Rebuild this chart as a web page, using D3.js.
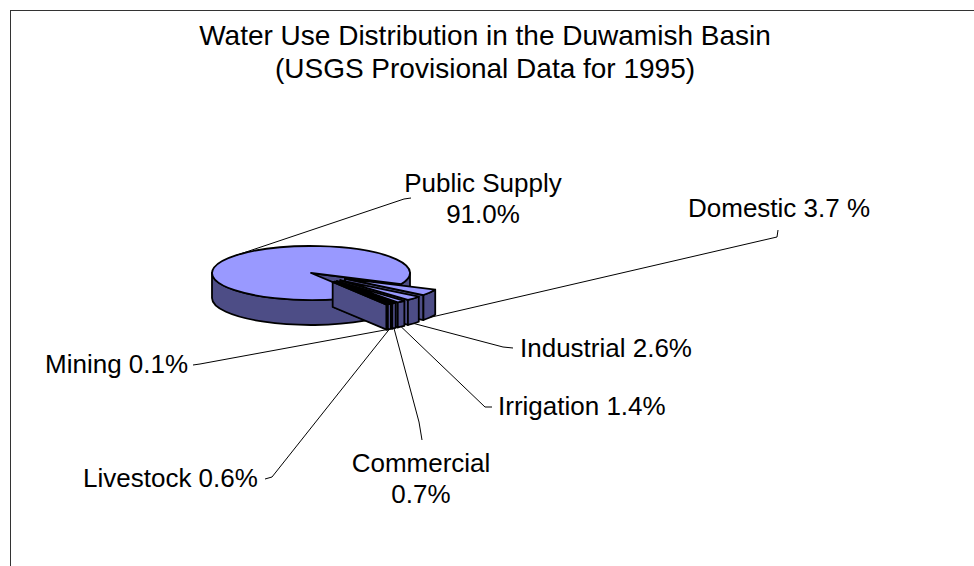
<!DOCTYPE html>
<html>
<head>
<meta charset="utf-8">
<script src="https://cdn.jsdelivr.net/npm/d3@7"></script>
<style>
  body { margin: 0; background: #fff; }
  text { font-family: "Liberation Sans", Arial, sans-serif; fill: #000; }
</style>
</head>
<body>
<div id="chart"></div>
<script>
//////////////////////////////////////////////////////////////////
/////////////////////////// Data /////////////////////////////////
//////////////////////////////////////////////////////////////////

var categories = ["Public Supply", "Domestic", "Industrial", "Irrigation", "Commercial", "Livestock", "Mining"];
var shares = [91.0, 3.7, 2.6, 1.4, 0.7, 0.6, 0.1];
var labelText = [
  ["Public Supply", "91.0%"],
  ["Domestic 3.7 %"],
  ["Industrial 2.6%"],
  ["Irrigation 1.4%"],
  ["Commercial", "0.7%"],
  ["Livestock 0.6%"],
  ["Mining 0.1%"]
];
var exploded = [false, true, true, true, true, true, true];
var titleLines = ["Water Use Distribution in the Duwamish Basin", "(USGS Provisional Data for 1995)"];

//////////////////////////////////////////////////////////////////
/////////////////////////// Layout ///////////////////////////////
//////////////////////////////////////////////////////////////////

var width = 974, height = 566;
var cx = 311, cy = 273;     // centre of the pie top
var rx = 99, ry = 27;       // ellipse radii
var depth = 25;             // thickness of the pie
var explode = 0.4;          // offset of exploded slices, fraction of radius
var startDeg = 147;         // d3.pie angle where Public Supply starts

// label placement: text anchor, baseline, and the bend points of the leader
var labelLayout = {
  "Public Supply": { x: 483, y: 192, anchor: "middle", pts: [[404, 199], [411, 198]] },
  "Domestic":      { x: 688, y: 217, anchor: "start",  pts: [[777, 237], [778, 230]] },
  "Industrial":    { x: 520, y: 357, anchor: "start",  pts: [[503, 347], [513, 348]] },
  "Irrigation":    { x: 498, y: 415, anchor: "start",  pts: [[485, 407], [492, 407]] },
  "Commercial":    { x: 421, y: 472, anchor: "middle", pts: [[419, 422], [422, 440]] },
  "Livestock":     { x: 83,  y: 487, anchor: "start",  pts: [[272, 477], [265, 479]] },
  "Mining":        { x: 45,  y: 373, anchor: "start",  pts: [[200, 364], [193, 365]] }
};

var topColor = "#9999ff", sideColor = "#4d4d86";

var svg = d3.select("#chart").append("svg")
  .attr("width", width)
  .attr("height", height);

// chart frame (right and bottom edges are off the page)
svg.append("rect")
  .attr("x", 10.5).attr("y", 10.5)
  .attr("width", width + 20).attr("height", height + 20)
  .attr("fill", "#fff")
  .attr("stroke", "#333")
  .attr("stroke-width", 1);

svg.selectAll("text.title").data(titleLines).enter().append("text")
  .attr("class", "title")
  .attr("x", 485)
  .attr("y", function(d, i) { return 45 + i * 33; })
  .attr("text-anchor", "middle")
  .style("font-size", "28px")
  .text(function(d) { return d; });

//////////////////////////////////////////////////////////////////
/////////////////////////// Pie //////////////////////////////////
//////////////////////////////////////////////////////////////////

var toRad = Math.PI / 180;
var pie = d3.pie().sort(null).value(function(d) { return d.v; })
  .startAngle(startDeg * toRad)
  .endAngle(startDeg * toRad + 2 * Math.PI);

var data = categories.map(function(c, i) { return { name: c, v: shares[i], lines: labelText[i], ex: exploded[i] }; });
var arcs = pie(data);

// convert d3.pie angles (0 = 12 o'clock) into screen angles (0 = 3 o'clock, y down)
arcs.forEach(function(a) {
  a.t0 = a.startAngle - Math.PI / 2;
  a.t1 = a.endAngle - Math.PI / 2;
  var mid = (a.t0 + a.t1) / 2;
  a.mid = mid;
  var k = a.data.ex ? explode : 0;
  a.ox = cx + Math.cos(mid) * k * rx;
  a.oy = cy + Math.sin(mid) * k * ry;
});

function pt(a, t, dy) {
  return [a.ox + Math.cos(t) * rx, a.oy + Math.sin(t) * ry + (dy || 0)];
}

function topPath(a) {
  var p0 = pt(a, a.t0), p1 = pt(a, a.t1);
  var large = (a.t1 - a.t0) > Math.PI ? 1 : 0;
  return "M" + a.ox + "," + a.oy + "L" + p0 + "A" + rx + "," + ry + " 0 " + large + " 1 " + p1 + "Z";
}

function sidePaths(a) {
  var out = [];
  [-2, 0, 2].forEach(function(n) {
    var lo = Math.max(a.t0, n * Math.PI), hi = Math.min(a.t1, n * Math.PI + Math.PI);
    if (hi > lo) {
      var p0 = pt(a, lo), p1 = pt(a, hi), q1 = pt(a, hi, depth), q0 = pt(a, lo, depth);
      out.push("M" + p0 + "A" + rx + "," + ry + " 0 0 1 " + p1 + "L" + q1 +
        "A" + rx + "," + ry + " 0 0 0 " + q0 + "Z");
    }
  });
  return out;
}

function radialFace(a, t) {
  var p = pt(a, t);
  return "M" + a.ox + "," + a.oy + "L" + p + "L" + [p[0], p[1] + depth] +
    "L" + [a.ox, a.oy + depth] + "Z";
}

var pieG = svg.append("g");

arcs.forEach(function(a) {
  var g = pieG.append("g");
  // only the cut faces turned towards the viewer
  [a.t0, a.t1].forEach(function(t, j) {
    var normal = j === 0 ? t - Math.PI / 2 : t + Math.PI / 2;
    if (Math.sin(normal) > 0) {
      g.append("path").attr("d", radialFace(a, t))
        .attr("fill", sideColor).attr("stroke", "#000").attr("stroke-width", 1.8)
        .attr("stroke-linejoin", "round");
    }
  });
  sidePaths(a).forEach(function(d) {
    g.append("path").attr("d", d)
      .attr("fill", sideColor).attr("stroke", "#000").attr("stroke-width", 1.8)
      .attr("stroke-linejoin", "round");
  });
  g.append("path").attr("d", topPath(a))
    .attr("fill", topColor).attr("stroke", "#000").attr("stroke-width", 1.8)
    .attr("stroke-linejoin", "round");
});

//////////////////////////////////////////////////////////////////
/////////////////////////// Labels ///////////////////////////////
//////////////////////////////////////////////////////////////////

var line = d3.line();

arcs.forEach(function(a) {
  var L = labelLayout[a.data.name];
  var start = a.data.ex ? pt(a, a.mid, depth) : pt(a, a.mid);
  svg.append("path")
    .attr("d", line([start].concat(L.pts)))
    .attr("fill", "none")
    .attr("stroke", "#000")
    .attr("stroke-width", 1);

  var txt = svg.append("text")
    .attr("x", L.x)
    .attr("y", L.y)
    .attr("text-anchor", L.anchor)
    .style("font-size", "26px");
  a.data.lines.forEach(function(s, i) {
    txt.append("tspan").attr("x", L.x).attr("dy", i === 0 ? 0 : 31).text(s);
  });
});
</script>
</body>
</html>
